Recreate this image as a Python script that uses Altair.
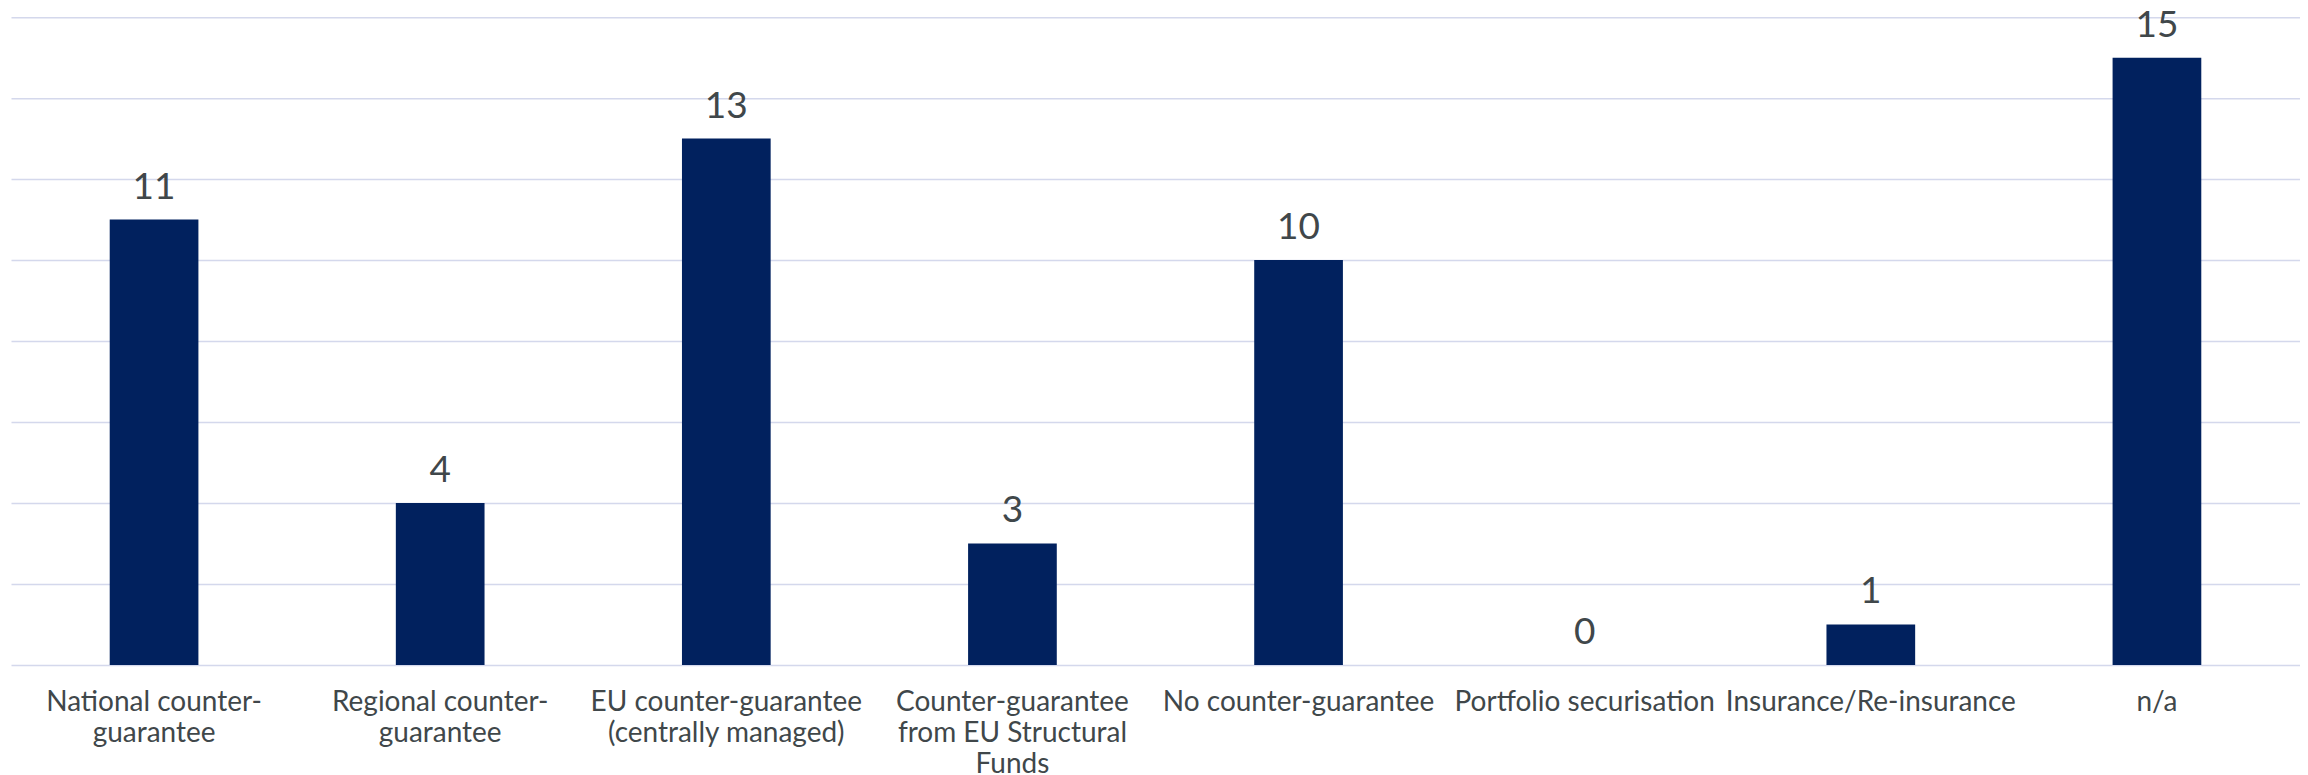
import altair as alt
import pandas as pd

categories = [
    "National counter-guarantee",
    "Regional counter-guarantee",
    "EU counter-guarantee (centrally managed)",
    "Counter-guarantee from EU Structural Funds",
    "No counter-guarantee",
    "Portfolio securisation",
    "Insurance/Re-insurance",
    "n/a",
]
values = [11, 4, 13, 3, 10, 0, 1, 15]
tick_labels = [
    ["National counter-", "guarantee"],
    ["Regional counter-", "guarantee"],
    ["EU counter-guarantee", "(centrally managed)"],
    ["Counter-guarantee", "from EU Structural", "Funds"],
    ["No counter-guarantee"],
    ["Portfolio securisation"],
    ["Insurance/Re-insurance"],
    ["n/a"],
]
y_ticks = [0, 2, 4, 6, 8, 10, 12, 14, 16]

df = pd.DataFrame({"category": categories, "value": values})


def js_str(s):
    return "'" + s.replace("'", "\\'") + "'"


cats_js = "[" + ",".join(js_str(c) for c in categories) + "]"
labels_js = "[" + ",".join("[" + ",".join(js_str(l) for l in ls) + "]" for ls in tick_labels) + "]"
label_expr = f"{labels_js}[indexof({cats_js}, datum.value)]"

FONT = "Lato"
TEXT_COLOR = "#40474a"

x = alt.X(
    "category:N",
    sort=categories,
    title=None,
    scale=alt.Scale(paddingInner=0.69, paddingOuter=0.345),
    axis=alt.Axis(
        labelExpr=label_expr,
        labelAngle=0,
        labelFont=FONT,
        labelFontSize=28,
        labelColor=TEXT_COLOR,
        labelLineHeight=31,
        labelPadding=24,
        ticks=False,
        domain=False,
        grid=False,
        labelLimit=400,
    ),
)
y = alt.Y(
    "value:Q",
    title=None,
    scale=alt.Scale(domain=[0, 16], nice=False),
    axis=alt.Axis(
        values=y_ticks,
        labels=False,
        ticks=False,
        domain=False,
        grid=True,
        gridColor="#d4d8ec",
        gridWidth=1.5,
    ),
)

bars = alt.Chart(df).mark_bar(color="#01215e").encode(x=x, y=y)
text = alt.Chart(df).mark_text(
    baseline="alphabetic",
    dy=-21,
    font=FONT,
    fontSize=37,
    color=TEXT_COLOR,
).encode(
    x=alt.X("category:N", sort=categories),
    y=alt.Y("value:Q"),
    text=alt.Text("value:Q"),
)

chart = (
    alt.layer(bars, text)
    .properties(
        width=2290,
        height=648,
        background="white",
        autosize=alt.AutoSizeParams(type="none"),
        padding={"left": 3, "top": 9, "right": 0, "bottom": 110},
    )
    .configure_view(stroke=None)
)

chart.save("out.html", embed_options={"renderer": "svg", "actions": False})
